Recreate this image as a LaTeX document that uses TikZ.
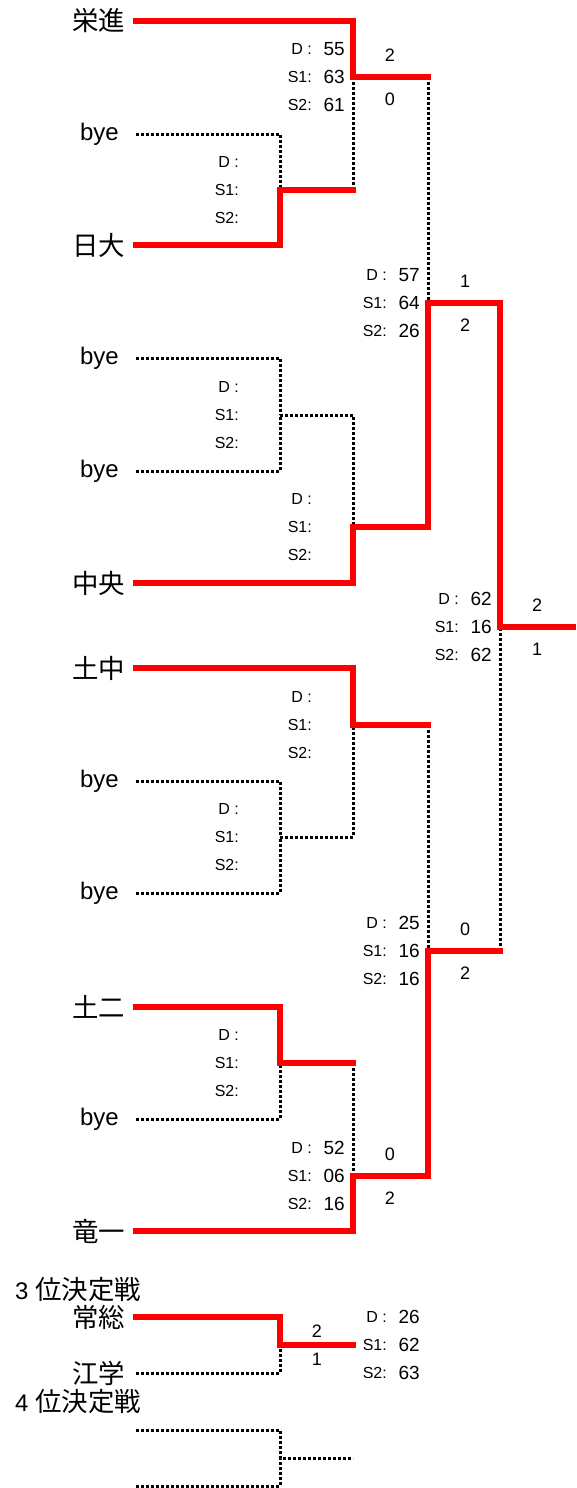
\documentclass[tikz,border=0pt]{standalone}
\usepackage{fontspec}
\setmainfont{Liberation Sans}
\newfontfamily\jp[Scale=1.1]{Noto Sans CJK JP}
\usetikzlibrary{positioning}
\tikzset{
  team/.style={inner sep=0pt, font=\fontsize{24}{30}\selectfont},
  win/.style={draw=red, line width=6.5pt, line cap=rect, line join=miter},
  lose/.style={draw=black, line width=3pt, dash pattern=on 3pt off 2pt},
  tag/.style={inner sep=0pt, anchor=east, font=\fontsize{16}{18}\selectfont},
  val/.style={inner sep=0pt, anchor=east, font=\fontsize{19}{22}\selectfont},
  score/.style={inner sep=0pt, font=\fontsize{18}{22}\selectfont},
}

\begin{document}
\begin{tikzpicture}[x=1pt,y=-1pt]
\useasboundingbox (0,0) rectangle (577,1488);

% teams and the start of their lines
\foreach \n/\y/\name/\gap in {1/21/{\jp 栄進}/11, 2/134/bye/17, 3/245/{\jp 日大}/11, 4/358/bye/17,
    5/471/bye/17, 6/583/{\jp 中央}/11, 7/668/{\jp 土中}/11, 8/781/bye/17, 9/893/bye/17,
    10/1007/{\jp 土二}/11, 11/1119/bye/17, 12/1231/{\jp 竜一}/11, 13/1317/{\jp 常総}/11, 14/1373/{\jp 江学}/11}
  {\coordinate (s\n) at (136,\y);
   \node (t\n) [team, left=\gap pt of s\n] {\name};}
\coordinate (s15) at (136,1430);
\coordinate (s16) at (136,1486);

\node (h3) [team, anchor=west] at (15,1290) {3 {\jp 位決定戦}};
\node (h4) [team, anchor=west] at (15,1402) {4 {\jp 位決定戦}};

% match points
\coordinate (r1a) at (280,190);
\coordinate (r1b) at (280,415);
\coordinate (r1c) at (280,837);
\coordinate (r1d) at (280,1063);
\coordinate (r1e) at (280,1345);
\coordinate (r1f) at (280,1458);
\coordinate (r2a) at (353,77);
\coordinate (r2b) at (353,527);
\coordinate (r2c) at (353,725);
\coordinate (r2d) at (353,1176);
\coordinate (r3a) at (428,303);
\coordinate (r3b) at (428,951);
\coordinate (r4) at (500,627);
\coordinate (fin) at (573,627);
\coordinate (e3) at (353,1345);
\coordinate (e4) at (353,1458);
\coordinate (i3) at (428,1345);

% losing sides
\draw[lose] (s2) -| (r1a);
\draw[lose] (r1a -| r2a) -- (r2a);
\draw[lose] (r2a -| r3a) -- (r3a);
\draw[lose] (s4) -| (r1b);
\draw[lose] (s5) -| (r1b);
\draw[lose] (r1b) -| (r2b);
\draw[lose] (s8) -| (r1c);
\draw[lose] (s9) -| (r1c);
\draw[lose] (r1c) -| (r2c);
\draw[lose] (r2c -| r3b) -- (r3b);
\draw[lose] (s11) -| (r1d);
\draw[lose] (r1d -| r2d) -- (r2d);
\draw[lose] (r3b -| r4) -- (r4);
\draw[lose] (s14) -| (r1e);
\draw[lose] (s15) -| (r1f);
\draw[lose] (s16) -| (r1f) -- (e4);

% winning sides
\draw[win] (s1) -| (r2a) -- (r2a -| r3a);
\draw[win] (s3) -| (r1a) -- (r1a -| r2a);
\draw[win] (s6) -| (r2b) -| (r3a) -| (r4) -- (fin);
\draw[win] (s7) -| (r2c) -- (r2c -| r3b);
\draw[win] (s10) -| (r1d) -- (r1d -| r2d);
\draw[win] (s12) -| (r2d) -| (r3b) -- (r3b -| r4);
\draw[win] (s13) -| (r1e) -- (e3);

% match details
\foreach \mt/\vd/\va/\vb in {r1a/{}/{}/{}, r2a/55/63/61, r1b/{}/{}/{}, r2b/{}/{}/{},
    r3a/57/64/26, r2c/{}/{}/{}, r1c/{}/{}/{}, r1d/{}/{}/{}, r2d/52/06/16,
    r3b/25/16/16, r4/62/16/62, i3/26/62/63}
  {\node (d\mt) [tag, xshift=-41pt, yshift=28pt] at (\mt) {D :};
   \node (a\mt) [tag, xshift=-41pt] at (\mt) {S1:};
   \node (b\mt) [tag, xshift=-41pt, yshift=-28pt] at (\mt) {S2:};
   \node (vd\mt) [val, xshift=-8pt, yshift=28pt] at (\mt) {\vd};
   \node (va\mt) [val, xshift=-8pt] at (\mt) {\va};
   \node (vb\mt) [val, xshift=-8pt, yshift=-28pt] at (\mt) {\vb};}

% games won
\foreach \mt/\up/\dn in {r2a/2/0, r3a/1/2, r4/2/1, r3b/0/2, r2d/0/2}
  {\node (u\mt) [score, xshift=37pt, yshift=22pt] at (\mt) {\up};
   \node (l\mt) [score, xshift=37pt, yshift=-22pt] at (\mt) {\dn};}
\node (ur1e) [score, xshift=37pt, yshift=14pt] at (r1e) {2};
\node (lr1e) [score, xshift=37pt, yshift=-14pt] at (r1e) {1};
\end{tikzpicture}
\end{document}
